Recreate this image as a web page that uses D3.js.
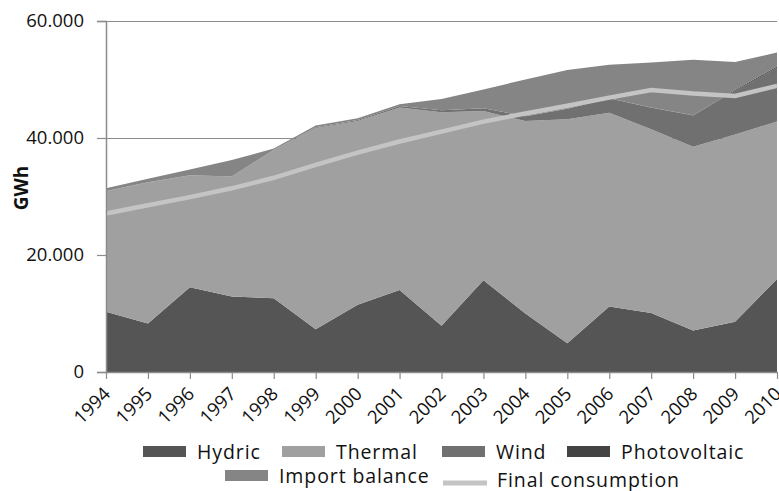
<!DOCTYPE html>
<html><head><meta charset="utf-8">
<script src="https://cdn.jsdelivr.net/npm/d3@7"></script>
<style>body{margin:0;background:#fff;}svg{display:block;}</style>
</head><body>
<svg id="c" width="779" height="491"></svg>
<script>
const years = [1994,1995,1996,1997,1998,1999,2000,2001,2002,2003,2004,2005,2006,2007,2008,2009,2010];
const hydric =       [10.3, 8.3,14.5,12.9,12.6, 7.3,11.5,14.0, 7.9,15.7,10.0, 4.9,11.2,10.1, 7.1, 8.6,15.9];
const thermal =      [20.6,24.1,19.1,20.5,25.3,34.4,31.4,31.2,36.5,28.9,32.9,38.3,33.1,31.4,31.4,32.0,26.9];
const wind =         [0.02,0.02,0.03,0.04,0.09,0.12,0.17,0.26,0.36,0.50,0.80,1.80,2.50,3.68,5.35,7.45,9.20];
const photovoltaic = [0,0,0,0,0,0,0.001,0.001,0.001,0.003,0.003,0.003,0.005,0.02,0.04,0.16,0.21];
const importBalance =[0.5, 0.6, 1.0, 2.8, 0.2, 0.3, 0.3, 0.3, 1.9, 3.2, 6.3, 6.6, 5.7, 7.7, 9.5, 4.8, 2.4];
const finalConsumption = [27.1,28.5,29.9,31.4,33.2,35.4,37.5,39.4,41.1,42.8,44.2,45.5,46.9,48.2,47.6,47.2,48.9];
const yTicks = [0,20,40,60];
const yTickLabels = ["0","20.000","40.000","60.000"];
const seriesNames = ["Hydric","Thermal","Wind","Photovoltaic","Import balance"];
const lineName = "Final consumption";

const colors = {"Hydric":"#555555","Thermal":"#a0a0a0","Wind":"#707070","Photovoltaic":"#444444","Import balance":"#858585"};
const svg = d3.select("#c");
const font = "'Open Sans', sans-serif";
const L = 106, R = 777, T = 21, B = 372;
const x = d3.scalePoint().domain(years).range([L, R]);
const y = d3.scaleLinear().domain([0,60]).range([B, T]);

const seriesArr = [hydric, thermal, wind, photovoltaic, importBalance];
const table = years.map((yr,i)=>{const o={year:yr}; seriesNames.forEach((n,k)=>o[n]=seriesArr[k][i]); return o;});
const stacked = d3.stack().keys(seriesNames)(table);

// gridlines
svg.append("g").selectAll("line").data(yTicks.filter(d=>d>0)).join("line")
  .attr("x1", L).attr("x2", R).attr("y1", d=>y(d)+0.5).attr("y2", d=>y(d)+0.5)
  .attr("stroke","#8c8c8c").attr("stroke-width",1.2);

const area = d3.area().x(d=>x(d.data.year)).y0(d=>y(d[0])).y1(d=>y(d[1]));
svg.append("g").selectAll("path").data(stacked).join("path")
  .attr("d", area).attr("fill", d=>colors[d.key]);

// consumption line
svg.append("path").datum(finalConsumption)
  .attr("d", d3.line().x((d,i)=>x(years[i])).y(d=>y(d)))
  .attr("fill","none").attr("stroke","#c4c4c4").attr("stroke-width",4.5);

// y axis
const yAxis = d3.axisLeft(y).tickValues(yTicks).tickFormat((d,i)=>yTickLabels[i]).tickSize(9).tickPadding(13);
const gy = svg.append("g").attr("transform",`translate(${L},0)`).call(yAxis);
gy.select(".domain").attr("stroke","#8c8c8c").attr("stroke-width",1.5);
gy.selectAll(".tick line").attr("stroke","#8c8c8c").attr("stroke-width",1.2);
gy.selectAll(".tick text").attr("font-family",font).attr("font-size",18.5).attr("fill","#111");

// x axis
const xAxis = d3.axisBottom(x).tickSize(7).tickSizeOuter(0);
const gx = svg.append("g").attr("transform",`translate(0,${B})`).call(xAxis);
gx.select(".domain").attr("stroke","#8c8c8c").attr("stroke-width",1.5);
gx.selectAll(".tick line").attr("stroke","#8c8c8c").attr("stroke-width",1.2);
gx.selectAll(".tick text").attr("font-family",font).attr("font-size",18.5).attr("fill","#111")
  .attr("text-anchor","end").attr("dy",null).attr("y",null)
  .attr("transform","translate(5,23) rotate(-45)");

// y title
svg.append("text").attr("transform","translate(28,188) rotate(-90)").attr("text-anchor","middle")
  .attr("font-family",font).attr("font-weight","bold").attr("font-size",19).attr("fill","#111").text("GWh");

// legend
const legendItems = [
  {name:"Hydric", x:143, y:446, type:"rect"},
  {name:"Thermal", x:282, y:446, type:"rect"},
  {name:"Wind", x:442, y:446, type:"rect"},
  {name:"Photovoltaic", x:567, y:446, type:"rect"},
  {name:"Import balance", x:225, y:470, type:"rect"},
  {name:lineName, x:443, y:478, type:"line"}
];
const lg = svg.append("g");
legendItems.forEach(it=>{
  if(it.type==="rect"){
    lg.append("rect").attr("x",it.x).attr("y",it.y).attr("width",43).attr("height",11).attr("fill",colors[it.name]);
    lg.append("text").attr("x",it.x+54).attr("y",it.y+13).attr("font-family",font).attr("font-size",19.5).attr("letter-spacing",0.9).attr("fill","#111").text(it.name);
  } else {
    lg.append("line").attr("x1",it.x).attr("x2",it.x+44).attr("y1",it.y+5).attr("y2",it.y+5).attr("stroke","#c4c4c4").attr("stroke-width",5);
    lg.append("text").attr("x",it.x+54).attr("y",it.y+9).attr("font-family",font).attr("font-size",19.5).attr("letter-spacing",0.9).attr("fill","#111").text(it.name);
  }
});
</script>
</body></html>
